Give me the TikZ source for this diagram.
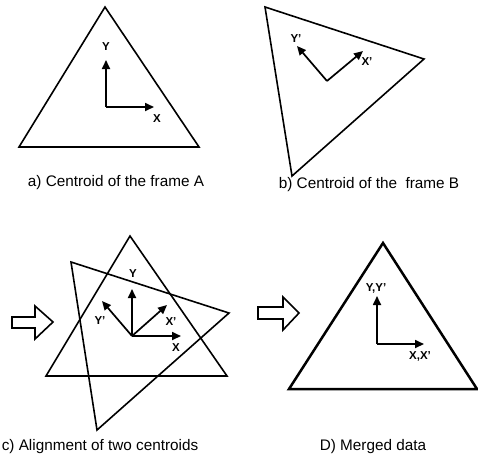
\documentclass[tikz,border=0pt]{standalone}
\usepackage{fontspec}
\setmainfont{Liberation Sans}
\usetikzlibrary{arrows.meta}
\tikzset{
  tri/.style={line width=1.6pt, line join=miter},
  trithick/.style={line width=2.5pt, line join=miter},
  axis/.style={line width=1.7pt, -{Triangle[length=9pt,width=8pt]}},
  lbl/.style={font=\fontsize{11.5}{13}\selectfont\bfseries, inner sep=0pt},
  capt/.style={font=\fontsize{15.3}{18}\selectfont, inner sep=0pt},
  hollow/.style={line width=1.6pt, line join=miter, fill=white}
}
\begin{document}
\begin{tikzpicture}[x=1pt,y=-1pt]
\useasboundingbox (0,0) rectangle (478,459);
% ---------- panel a ----------
\coordinate (a1) at (105,7);
\coordinate (a2) at (19,147);
\coordinate (a3) at (199,147);
\draw[tri] (a1) -- (a2) -- (a3) -- cycle;
\coordinate (oa) at (106,107);
\coordinate (yat) at (106,60);
\coordinate (xat) at (154,107);
\draw[axis] (oa) -- (yat);
\draw[axis] (oa) -- (xat);
\node[lbl] (ya) at (106,47) {Y};
\node[lbl] (xa) at (157,119) {X};
\node[capt] (capa) at (116,183) {a) Centroid of the frame A};
% ---------- panel b ----------
\coordinate (b1) at (265,7);
\coordinate (b2) at (424,59);
\coordinate (b3) at (292,176);
\draw[tri] (b1) -- (b2) -- (b3) -- cycle;
\coordinate (ob) at (327,81);
\coordinate (ybt) at (297,46);
\coordinate (xbt) at (363,51);
\draw[axis] (ob) -- (ybt);
\draw[axis] (ob) -- (xbt);
\node[lbl] (yb) at (296,39) {Y'};
\node[lbl] (xb) at (367,62) {X'};
\node[capt] (capb) at (369,185) {b) Centroid of the\ \ frame B};
% ---------- panel c ----------
\draw[hollow] (12,317) -- (35,317) -- (35,306) -- (53,322) -- (35,339) -- (35,328) -- (12,328) -- cycle;
\coordinate (c1) at (130,236);
\coordinate (c2) at (46,376);
\coordinate (c3) at (227,376);
\draw[tri] (c1) -- (c2) -- (c3) -- cycle;
\coordinate (d1) at (71,262);
\coordinate (d2) at (229,313);
\coordinate (d3) at (97,430);
\draw[tri] (d1) -- (d2) -- (d3) -- cycle;
\coordinate (oc) at (132,336);
\coordinate (yct) at (132,289);
\coordinate (xct) at (181,336);
\coordinate (ypct) at (102,301);
\coordinate (xpct) at (167,305);
\draw[axis] (oc) -- (yct);
\draw[axis] (oc) -- (xct);
\draw[axis] (oc) -- (ypct);
\draw[axis] (oc) -- (xpct);
\node[lbl] (yc) at (133,274) {Y};
\node[lbl] (xc) at (176,348) {X};
\node[lbl] (ypc) at (100,321) {Y'};
\node[lbl] (xpc) at (171,322) {X'};
\node[capt] (capc) at (100,447) {c) Alignment of two centroids};
% ---------- panel d ----------
\draw[hollow] (258,307) -- (283,307) -- (283,297) -- (299,313) -- (283,330) -- (283,319) -- (258,319) -- cycle;
\coordinate (e1) at (383,243);
\coordinate (e2) at (289,389);
\coordinate (e3) at (477,389);
\draw[trithick] (e1) -- (e2) -- (e3) -- cycle;
\coordinate (od) at (377,344);
\coordinate (ydt) at (377,296);
\coordinate (xdt) at (424,344);
\draw[axis] (od) -- (ydt);
\draw[axis] (od) -- (xdt);
\node[lbl] (yd) at (376,288) {Y,Y'};
\node[lbl] (xd) at (420,356) {X,X'};
\node[capt] (capd) at (373,447) {D) Merged data};
\end{tikzpicture}
\end{document}
